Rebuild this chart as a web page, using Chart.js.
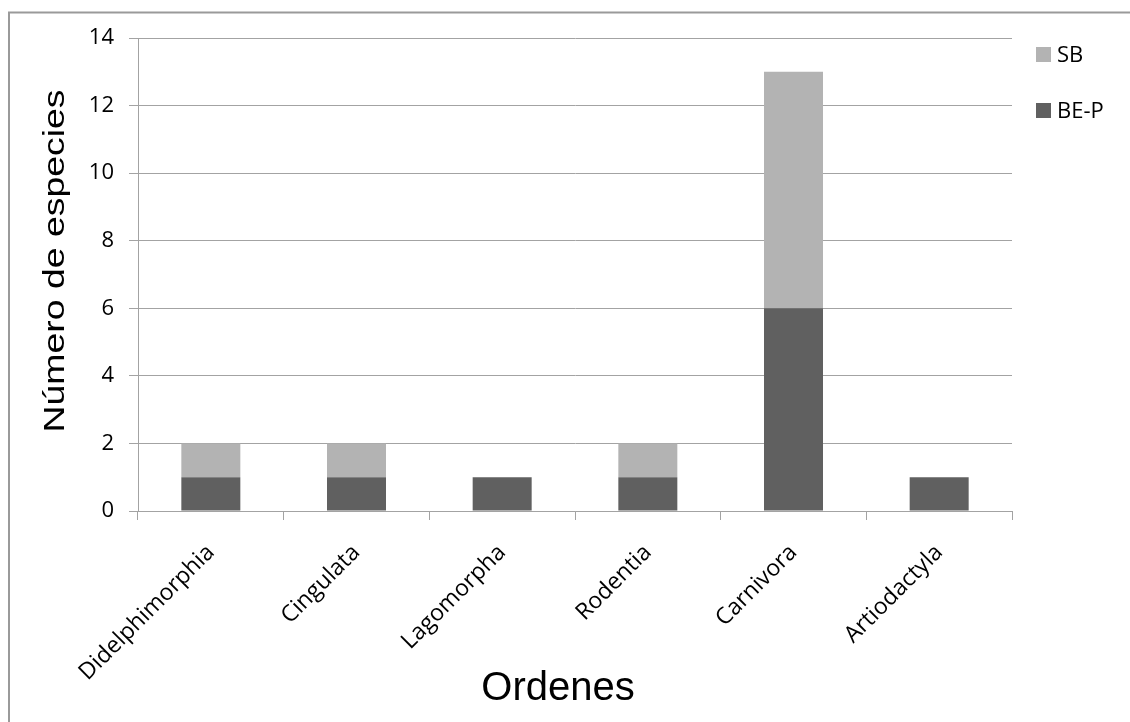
<!DOCTYPE html>
<html>
<head>
<meta charset="utf-8">
<script src="https://cdn.jsdelivr.net/npm/chart.js@4/dist/chart.umd.min.js"></script>
<style>
  html, body { margin: 0; padding: 0; background: #ffffff; }
  #wrap { width: 1130px; height: 722px; position: relative; }
</style>
</head>
<body>
<div id="wrap"><canvas id="chart" width="1130" height="722"></canvas></div>
<script>
// Species counts per mammal order
const categories = ['Didelphimorphia', 'Cingulata', 'Lagomorpha', 'Rodentia', 'Carnivora', 'Artiodactyla'];
const bepValues = [1, 1, 1, 1, 6, 1];
const sbValues = [1, 1, 0, 1, 7, 0];
const seriesNames = ['BE-P', 'SB'];
const yTickValues = [0, 2, 4, 6, 8, 10, 12, 14];
const xTitle = 'Ordenes';
const yTitle = 'Número de especies';

const DARK = '#606060';
const LIGHT = '#b3b3b3';
const GRID = '#a3a3a3';
const TEXT = '#000000';

// Outer frame around the figure
const framePlugin = {
  id: 'frame',
  beforeDraw(chart) {
    const ctx = chart.ctx;
    ctx.save();
    ctx.fillStyle = '#ffffff';
    ctx.fillRect(0, 0, chart.width, chart.height);
    ctx.strokeStyle = '#9a9a9a';
    ctx.lineWidth = 2;
    ctx.strokeRect(9, 12.5, chart.width + 50, chart.height + 50);
    ctx.restore();
  }
};

// Axis titles
const titlesPlugin = {
  id: 'axisTitles',
  afterDraw(chart) {
    const ctx = chart.ctx;
    const a = chart.chartArea;
    ctx.save();
    ctx.fillStyle = '#000000';
    ctx.font = '40px "Liberation Sans", Arial, sans-serif';
    ctx.textAlign = 'center';
    ctx.textBaseline = 'alphabetic';
    ctx.fillText(xTitle, (a.left + a.right) / 2 - 17, 700);

    ctx.font = '29px "Liberation Sans", Arial, sans-serif';
    ctx.translate(64, (a.top + a.bottom) / 2 - 13.5);
    ctx.rotate(-Math.PI / 2);
    ctx.scale(1.29, 1);
    ctx.fillText(yTitle, 0, 0);
    ctx.restore();
  }
};

// Legend at the upper right, top series first
const legendPlugin = {
  id: 'sideLegend',
  afterDraw(chart) {
    const ctx = chart.ctx;
    const sets = chart.data.datasets.slice().reverse();
    ctx.save();
    ctx.font = '22px "Open Sans"';
    ctx.textAlign = 'left';
    ctx.textBaseline = 'middle';
    sets.forEach((ds, i) => {
      const cy = 54.5 + i * 56;
      ctx.fillStyle = ds.backgroundColor;
      ctx.fillRect(1036, cy - 7.5, 15, 15);
      ctx.fillStyle = TEXT;
      ctx.fillText(ds.label, 1057, cy + 1);
    });
    ctx.restore();
  }
};

new Chart(document.getElementById('chart'), {
  type: 'bar',
  data: {
    labels: categories,
    datasets: [
      { label: seriesNames[0], data: bepValues, backgroundColor: DARK, borderWidth: 0 },
      { label: seriesNames[1], data: sbValues, backgroundColor: LIGHT, borderWidth: 0 }
    ]
  },
  options: {
    responsive: false,
    animation: false,
    devicePixelRatio: 1,
    datasets: { bar: { categoryPercentage: 1, barPercentage: 0.405 } },
    layout: { padding: { left: 0, top: 38, right: 118, bottom: 0 } },
    plugins: {
      legend: { display: false },
      tooltip: { enabled: false },
      title: { display: false }
    },
    scales: {
      x: {
        stacked: true,
        offset: true,
        grid: {
          offset: true,
          drawOnChartArea: false,
          drawTicks: true,
          tickLength: 9,
          color: GRID,
          lineWidth: 1
        },
        border: { color: GRID, width: 1 },
        ticks: {
          color: TEXT,
          font: { family: '"Open Sans"', size: 23 },
          minRotation: 45,
          maxRotation: 45,
          padding: 19,
          autoSkip: false
        },
        afterFit(scale) { scale.height = 722 - 511; }
      },
      y: {
        stacked: true,
        min: 0,
        max: 14,
        afterBuildTicks(scale) { scale.ticks = yTickValues.map(v => ({ value: v })); },
        grid: {
          color: GRID,
          lineWidth: 1,
          drawTicks: true,
          tickLength: 9
        },
        border: { color: GRID, width: 1 },
        ticks: {
          color: TEXT,
          font: { family: '"Open Sans"', size: 22 },
          padding: 15
        },
        afterFit(scale) { scale.width = 138; }
      }
    }
  },
  plugins: [framePlugin, titlesPlugin, legendPlugin]
});
</script>
</body>
</html>
